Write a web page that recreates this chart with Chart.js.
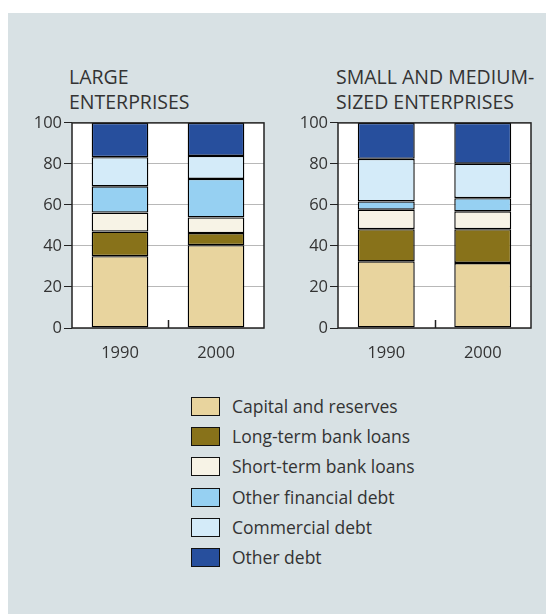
<!DOCTYPE html>
<html>
<head>
<meta charset="utf-8">
<script src="https://cdn.jsdelivr.net/npm/chart.js@4.4.1/dist/chart.umd.min.js"></script>
<style>
  body { margin: 0; background: #fff; font-family: 'Open Sans', sans-serif; color: #333; }
  #panel { position: absolute; left: 8px; top: 13px; width: 538px; height: 601px; background: #d8e1e4; }
  .title { position: absolute; font-size: 19.5px; line-height: 25px; color: #333; }
  .chartBox { position: absolute; }
  #legend { position: absolute; left: 191px; top: 397px; }
  .item { position: absolute; left: 0; height: 20px; white-space: nowrap; }
  .swatch { position: absolute; left: 0; top: 0; width: 27px; height: 17px; border: 1.5px solid #111; }
  .label { position: absolute; left: 41px; top: -3px; font-size: 17.5px; line-height: 24px; }
</style>
</head>
<body>
<div id="panel"></div>
<div class="title" style="left:69px; top:64px;">LARGE<br>ENTERPRISES</div>
<div class="title" style="left:336px; top:64px;">SMALL AND MEDIUM-<br>SIZED ENTERPRISES</div>
<div class="chartBox" style="left:20px; top:111px; width:250px; height:255px;"><canvas id="largeChart"></canvas></div>
<div class="chartBox" style="left:286px; top:111px; width:251px; height:255px;"><canvas id="smeChart"></canvas></div>
<div id="legend"></div>
<script>
const years = ['1990', '2000'];
const yTicks = [0, 20, 40, 60, 80, 100];

const seriesNames = ['Capital and reserves', 'Long-term bank loans', 'Short-term bank loans',
  'Other financial debt', 'Commercial debt', 'Other debt'];
const seriesColors = ['#e8d49e', '#88721a', '#f7f3e6', '#96d0f2', '#d4ebf9', '#274f9d'];

// shares in % (1990, 2000)
const largeCapital = [35, 40.4];
const largeLongTerm = [12, 5.9];
const largeShortTerm = [9.3, 7.6];
const largeOtherFinancial = [12.8, 18.8];
const largeCommercial = [14.2, 11.2];
const largeOther = [16.7, 16.1];

const smeCapital = [32.5, 31.7];
const smeLongTerm = [15.7, 16.5];
const smeShortTerm = [9.5, 8.7];
const smeOtherFinancial = [4, 6.4];
const smeCommercial = [20.8, 16.8];
const smeOther = [17.5, 19.9];

const largeSeries = [largeCapital, largeLongTerm, largeShortTerm, largeOtherFinancial, largeCommercial, largeOther];
const smeSeries = [smeCapital, smeLongTerm, smeShortTerm, smeOtherFinancial, smeCommercial, smeOther];

// white plot background, closed frame and the small tick between the two bars
const framePlugin = {
  id: 'frame',
  beforeDraw(chart) {
    const a = chart.chartArea, ctx = chart.ctx;
    ctx.save();
    ctx.fillStyle = '#fff';
    ctx.fillRect(a.left, a.top, a.right - a.left, a.bottom - a.top);
    ctx.restore();
  },
  afterDraw(chart) {
    const a = chart.chartArea, ctx = chart.ctx;
    const xs = chart.scales.x;
    const mid = (xs.getPixelForValue(0) + xs.getPixelForValue(1)) / 2;
    ctx.save();
    ctx.strokeStyle = '#222';
    ctx.lineWidth = 1.5;
    ctx.strokeRect(a.left, a.top, a.right - a.left, a.bottom - a.top);
    ctx.beginPath();
    ctx.moveTo(Math.round(mid) + 0.5, a.bottom);
    ctx.lineTo(Math.round(mid) + 0.5, a.bottom - 8);
    ctx.stroke();
    ctx.restore();
  }
};

function makeChart(id, series) {
  new Chart(document.getElementById(id), {
    type: 'bar',
    data: {
      labels: years,
      datasets: series.map((values, i) => ({
        label: seriesNames[i],
        data: values,
        backgroundColor: seriesColors[i],
        borderColor: '#000',
        borderWidth: 1.4,
        borderSkipped: false,
        categoryPercentage: 1,
        barPercentage: 0.59
      }))
    },
    options: {
      responsive: true,
      maintainAspectRatio: false,
      animation: false,
      layout: { padding: { top: 10, right: 6, left: 0, bottom: 0 } },
      plugins: { legend: { display: false }, tooltip: { enabled: false } },
      scales: {
        x: {
          stacked: true,
          grid: { display: false },
          border: { display: false },
          ticks: { color: '#333', font: { family: 'Open Sans', size: 16.5 }, padding: 7 },
          afterFit(scale) { scale.height = 38; }
        },
        y: {
          stacked: true,
          min: 0,
          max: 100,
          afterBuildTicks(scale) { scale.ticks = yTicks.map(v => ({ value: v })); },
          grid: { color: '#b8b8b8', lineWidth: 1, tickLength: 8, tickColor: '#222' },
          border: { display: false },
          ticks: { color: '#333', font: { family: 'Open Sans', size: 16.5 }, padding: 2 },
          afterFit(scale) { scale.width = 52; }
        }
      }
    },
    plugins: [framePlugin]
  });
}

makeChart('largeChart', largeSeries);
makeChart('smeChart', smeSeries);

const legend = document.getElementById('legend');
seriesNames.forEach((name, i) => {
  const item = document.createElement('div');
  item.className = 'item';
  item.style.top = (i * 30.2) + 'px';
  item.innerHTML = '<div class="swatch" style="background:' + seriesColors[i] + '"></div>' +
    '<div class="label">' + name + '</div>';
  legend.appendChild(item);
});
</script>
</body>
</html>
